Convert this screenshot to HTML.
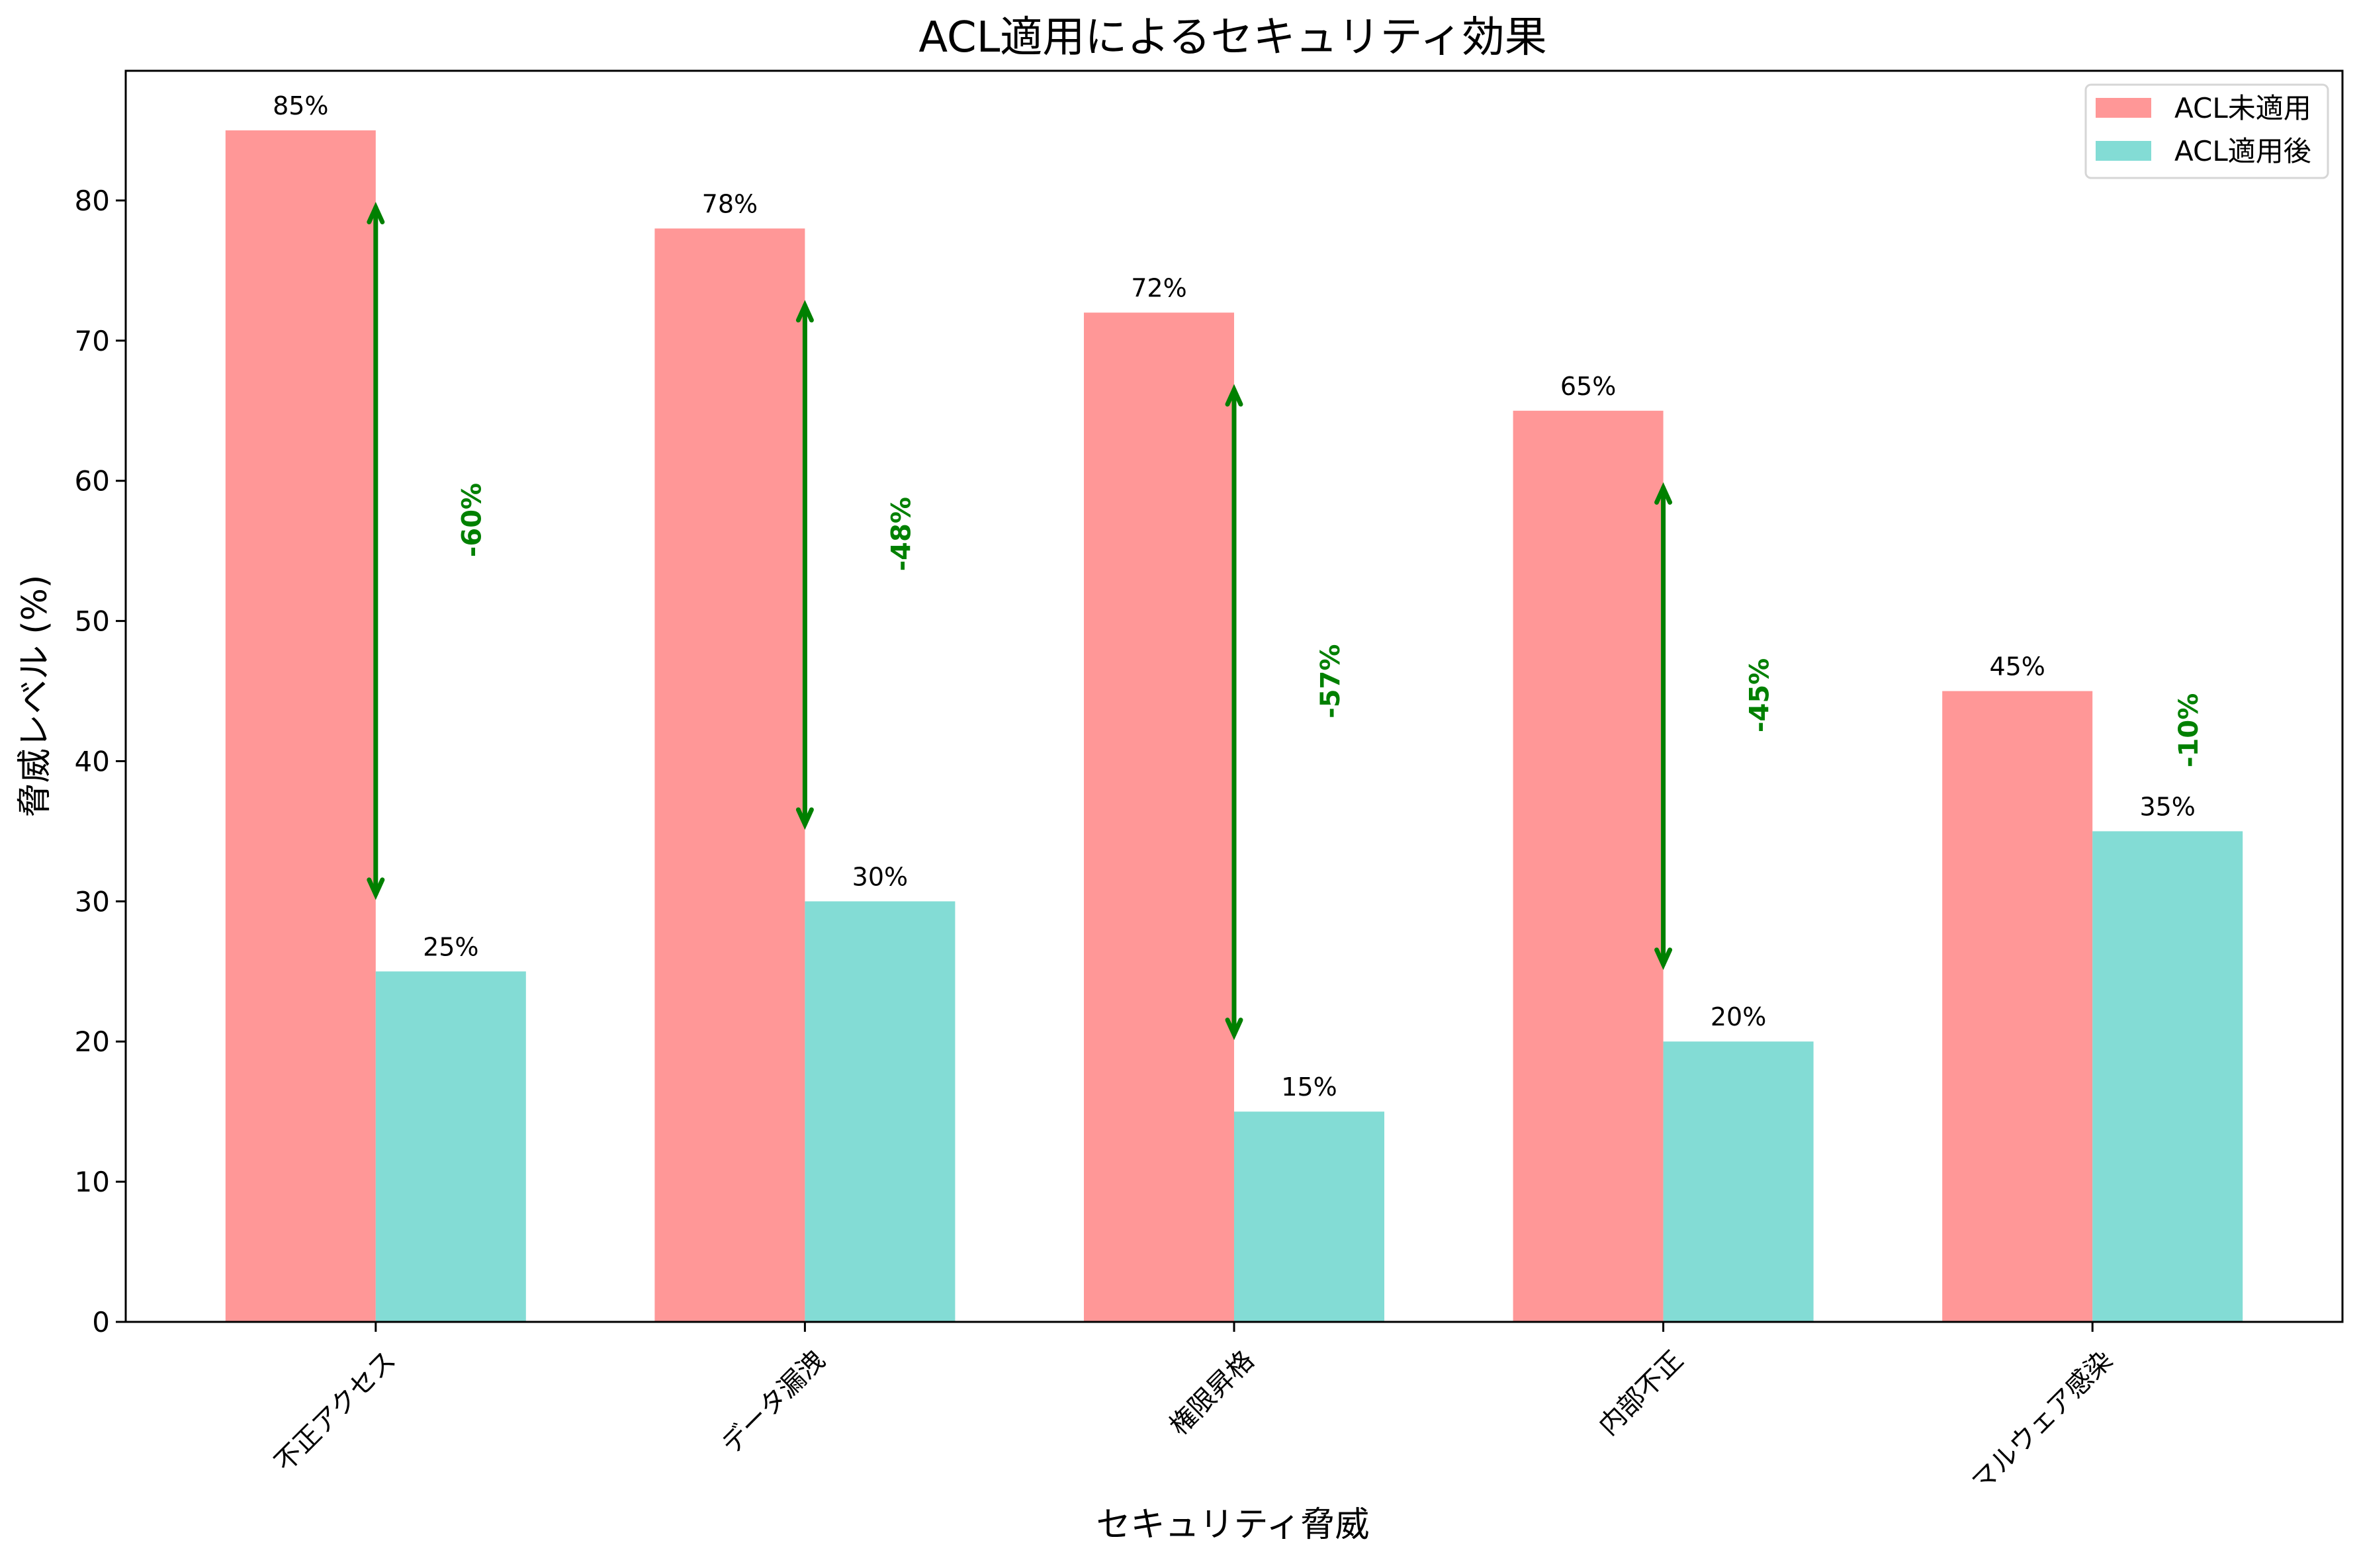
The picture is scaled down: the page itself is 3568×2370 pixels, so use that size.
<!DOCTYPE html>
<html><head><meta charset="utf-8"><style>
html,body{margin:0;padding:0;background:#fff}
svg{display:block;font-family:"DejaVu Sans","Liberation Sans","Noto Sans CJK JP",sans-serif}
</style></head><body>
<svg id="chart" width="3568" height="2370" viewBox="0 0 3568 2370" xmlns="http://www.w3.org/2000/svg">
<rect width="3568" height="2370" fill="#fff"/>
<text x="1863" y="78" font-size="64" text-anchor="middle">ACL適用によるセキュリティ効果</text>
<g id="plot"></g>
<text x="1863" y="2322" font-size="52" text-anchor="middle">セキュリティ脅威</text>
<text transform="translate(70,1052) rotate(-90)" font-size="52" text-anchor="middle">脅威レベル (%)</text>
<g>
<rect x="3152" y="128" width="366" height="141" rx="8" fill="#fff" stroke="#d6d6d6" stroke-width="3"/>
<rect x="3167" y="148" width="84" height="30" fill="#FF9797"/>
<text x="3286" y="178" font-size="42">ACL未適用</text>
<rect x="3167" y="213" width="84" height="30" fill="#83DCD5"/>
<text x="3286" y="243" font-size="42">ACL適用後</text>
</g>
</svg>
<script>
const categories = ["不正アクセス","データ漏洩","権限昇格","内部不正","マルウェア感染"];
const beforeValues = [85,78,72,65,45];
const afterValues = [25,30,15,20,35];
const yTicks = [0,10,20,30,40,50,60,70,80];

const NS="http://www.w3.org/2000/svg";
const L=190,R=3540,T=107,B=1998;
const xMin=-0.5825,xMax=4.5825,yMax=Math.max(...beforeValues,...afterValues)*1.05;
const xs=v=>L+(v-xMin)/(xMax-xMin)*(R-L);
const ys=v=>B-v/yMax*(B-T);
const unit=(R-L)/(xMax-xMin);
const bw=0.35*unit;
const g=document.getElementById('plot');
function mk(tag,attrs,parent){const e=document.createElementNS(NS,tag);for(const k in attrs)e.setAttribute(k,attrs[k]);(parent||g).appendChild(e);return e;}

categories.forEach((c,i)=>{
  const b=beforeValues[i],a=afterValues[i],cx=xs(i);
  const r1=mk('rect',{x:cx-bw,y:ys(b),width:bw,height:B-ys(b),fill:'#FF9797'});
  
  
  const r2=mk('rect',{x:cx,y:ys(a),width:bw,height:B-ys(a),fill:'#83DCD5'});
  
  
  const t1=mk('text',{x:cx-bw/2,y:ys(b)-24,'font-size':38,'text-anchor':'middle'});
  t1.textContent=b+'%';
  
  
  const t2=mk('text',{x:cx+bw/2,y:ys(a)-24,'font-size':38,'text-anchor':'middle'});
  t2.textContent=a+'%';
  
  
  const top=b-5.5,bot=a+5.5;
  if(top>bot){
    const y1=ys(top),y2=ys(bot);
    const ar=mk('g',{stroke:'#008000','stroke-width':7,fill:'none','stroke-linecap':'round'});
    
    
    mk('line',{x1:cx,y1:y1,x2:cx,y2:y2},ar);
    mk('polyline',{points:`${cx-10},${y1+22} ${cx},${y1} ${cx+10},${y1+22}`},ar);
    mk('polyline',{points:`${cx-10},${y2-22} ${cx},${y2} ${cx+10},${y2-22}`},ar);
  }
  const ly=ys((a+b)/2+2.2),lx=xs(i+0.225);
  const lt=mk('text',{transform:`translate(${lx},${ly}) rotate(-90)`,'font-size':40,'font-weight':'bold',fill:'#008000','text-anchor':'middle','dominant-baseline':'central'});
  lt.textContent='-'+(b-a)+'%';
  
  
  // x tick
  const tk=mk('line',{x1:cx,y1:B,x2:cx,y2:B+15,stroke:'#000','stroke-width':3});
  
  
  const xl=mk('text',{transform:`translate(${cx+12},${B+40}) rotate(-45)`,'font-size':40,'text-anchor':'end','dominant-baseline':'hanging'});
  xl.textContent=c;
  
  
});
yTicks.forEach(v=>{
  const y=ys(v);
  const tk=mk('line',{x1:L-15,y1:y,x2:L,y2:y,stroke:'#000','stroke-width':3});
  
  
  const tl=mk('text',{x:L-24,y:y+15,'font-size':42,'text-anchor':'end'});
  tl.textContent=v;
  
  
});
const fr=mk('rect',{x:L,y:T,width:R-L,height:B-T,fill:'none',stroke:'#000','stroke-width':3});


</script>
</body></html>
